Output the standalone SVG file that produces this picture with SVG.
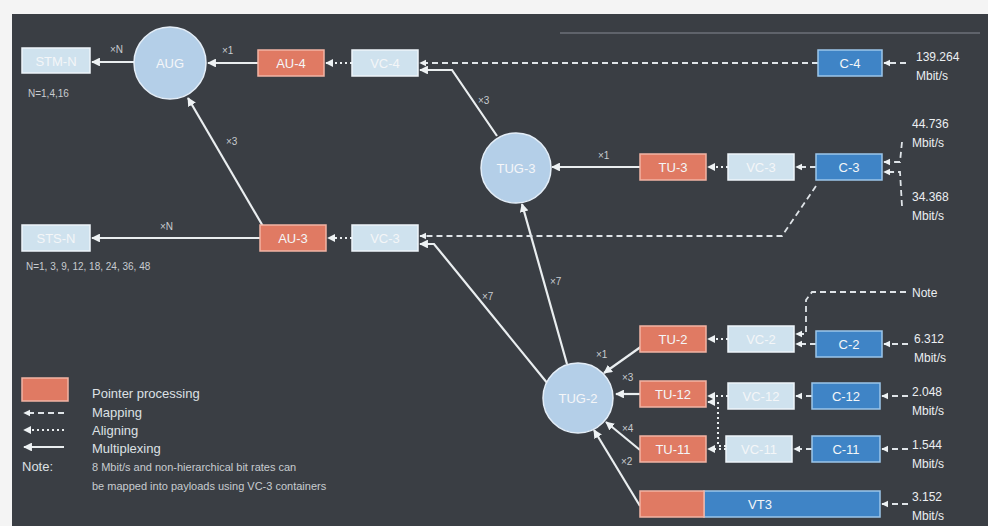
<svg xmlns="http://www.w3.org/2000/svg" width="988" height="526" viewBox="0 0 988 526">
  <defs>
    <marker id="ah" viewBox="0 0 10 10" refX="9" refY="5" markerWidth="4" markerHeight="4" orient="auto-start-reverse">
      <path d="M0,0 L10,5 L0,10 z" fill="#eef2f4"/>
    </marker>
  </defs>
  <style>
    text { font-family: "Liberation Sans", Arial, sans-serif; fill: #e6eaee; }
    .lbl { font-size: 13px; text-anchor: middle; dominant-baseline: central; fill: #f4f6f8; }
    .sm { font-size: 10px; fill: #c8ccd0; }
    .rate { font-size: 12px; fill: #eceff2; }
    .leg { font-size: 13px; fill: #dde1e5; }
    .ptr { fill: #e07a63; stroke: #f2b4a4; stroke-width: 1.5; }
    .vc { fill: #cfe2ee; stroke: #eef5fa; stroke-width: 1.5; }
    .cc { fill: #3f84c6; stroke: #9cc6ea; stroke-width: 1.5; }
    .grp { fill: #b4cfe8; stroke: #e4eef8; stroke-width: 1.5; }
    .mux { stroke: #eaeef0; stroke-width: 2.2; fill: none; }
    .aln { stroke: #eaeef0; stroke-width: 2; fill: none; stroke-dasharray: 2 3; }
    .map { stroke: #dfe4e8; stroke-width: 1.8; fill: none; stroke-dasharray: 6 4; }
  </style>

  <!-- page and dark panel -->
  <rect width="988" height="526" fill="#f4f4f4"/>
  <rect x="12" y="14" width="976" height="512" fill="#3a3e44"/>
  <line x1="560" y1="33" x2="980" y2="33" stroke="#6c7178" stroke-width="1.5"/>

  <!-- connectors -->
  <g id="connectors">
    <!-- multiplexing -->
    <line class="mux" x1="134" y1="62" x2="92" y2="62" marker-end="url(#ah)"/>
    <line class="mux" x1="258" y1="63" x2="208" y2="63" marker-end="url(#ah)"/>
    <line class="mux" x1="264" y1="228" x2="188" y2="98" marker-end="url(#ah)"/>
    <line class="mux" x1="260" y1="238" x2="92" y2="238" marker-end="url(#ah)"/>
    <polyline class="mux" points="497,136 452,70 420,70" marker-end="url(#ah)"/>
    <line class="mux" x1="640" y1="167" x2="552" y2="167" marker-end="url(#ah)"/>
    <line class="mux" x1="567" y1="364" x2="522" y2="204" marker-end="url(#ah)"/>
    <polyline class="mux" points="548,384 434,244 420,244" marker-end="url(#ah)"/>
    <line class="mux" x1="642" y1="346" x2="604" y2="373" marker-end="url(#ah)"/>
    <line class="mux" x1="640" y1="394" x2="616" y2="394" marker-end="url(#ah)"/>
    <line class="mux" x1="640" y1="450" x2="606" y2="422" marker-end="url(#ah)"/>
    <line class="mux" x1="640" y1="506" x2="594" y2="430" marker-end="url(#ah)"/>

    <!-- aligning -->
    <line class="aln" x1="352" y1="63" x2="326" y2="63" marker-end="url(#ah)"/>
    <line class="aln" x1="352" y1="238" x2="328" y2="238" marker-end="url(#ah)"/>
    <line class="aln" x1="728" y1="167" x2="708" y2="167" marker-end="url(#ah)"/>
    <line class="aln" x1="728" y1="339" x2="708" y2="339" marker-end="url(#ah)"/>
    <line class="aln" x1="728" y1="396" x2="708" y2="396" marker-end="url(#ah)"/>
    <line class="aln" x1="726" y1="449" x2="708" y2="449" marker-end="url(#ah)"/>
    <polyline class="aln" points="726,446 718,446 718,402 708,402" marker-end="url(#ah)"/>

    <!-- mapping -->
    <line class="map" x1="818" y1="63" x2="420" y2="63" marker-end="url(#ah)"/>
    <line class="map" x1="816" y1="167" x2="796" y2="167" marker-end="url(#ah)"/>
    <polyline class="map" points="816,186 782,236 420,236" marker-end="url(#ah)"/>
    <line class="map" x1="816" y1="344" x2="796" y2="344" marker-end="url(#ah)"/>
    <polyline class="map" points="906,292 812,292 806,300 806,334 796,334" marker-end="url(#ah)"/>
    <line class="map" x1="812" y1="396" x2="796" y2="396" marker-end="url(#ah)"/>
    <line class="map" x1="812" y1="449" x2="794" y2="449" marker-end="url(#ah)"/>

    <!-- rate inputs -->
    <line class="map" x1="906" y1="63" x2="884" y2="63" marker-end="url(#ah)"/>
    <polyline class="map" points="902,142 900,162 884,162" marker-end="url(#ah)"/>
    <polyline class="map" points="902,206 900,172 884,172" marker-end="url(#ah)"/>
    <line class="map" x1="908" y1="344" x2="884" y2="344" marker-end="url(#ah)"/>
    <line class="map" x1="908" y1="396" x2="882" y2="396" marker-end="url(#ah)"/>
    <line class="map" x1="908" y1="449" x2="882" y2="449" marker-end="url(#ah)"/>
    <line class="map" x1="908" y1="504" x2="882" y2="504" marker-end="url(#ah)"/>

    <!-- multiplexing factors -->
    <text class="sm" x="110" y="53">×N</text>
    <text class="sm" x="222" y="54">×1</text>
    <text class="sm" x="226" y="145">×3</text>
    <text class="sm" x="160" y="230">×N</text>
    <text class="sm" x="478" y="104">×3</text>
    <text class="sm" x="598" y="159">×1</text>
    <text class="sm" x="550" y="285">×7</text>
    <text class="sm" x="482" y="300">×7</text>
    <text class="sm" x="596" y="358">×1</text>
    <text class="sm" x="622" y="381">×3</text>
    <text class="sm" x="622" y="432">×4</text>
    <text class="sm" x="621" y="465">×2</text>
  </g>

  <!-- SDH / SONET line signals -->
  <g id="stm-n">
    <rect class="vc" x="22" y="48" width="68" height="25"/>
    <text class="lbl" x="56" y="61">STM-N</text>
    <text class="sm" x="28" y="97">N=1,4,16</text>
  </g>
  <g id="sts-n">
    <rect class="vc" x="22" y="225" width="68" height="26"/>
    <text class="lbl" x="56" y="238">STS-N</text>
    <text class="sm" x="26" y="270">N=1, 3, 9, 12, 18, 24, 36, 48</text>
  </g>

  <!-- groups -->
  <g id="aug">
    <circle class="grp" cx="170" cy="63" r="36"/>
    <text class="lbl" x="170" y="63">AUG</text>
  </g>
  <g id="tug-3">
    <circle class="grp" cx="516" cy="168" r="35"/>
    <text class="lbl" x="516" y="168">TUG-3</text>
  </g>
  <g id="tug-2">
    <circle class="grp" cx="578" cy="398" r="35"/>
    <text class="lbl" x="578" y="398">TUG-2</text>
  </g>

  <!-- AU-4 branch -->
  <g id="au-4">
    <rect class="ptr" x="258" y="50" width="66" height="26"/>
    <text class="lbl" x="291" y="63">AU-4</text>
  </g>
  <g id="vc-4">
    <rect class="vc" x="352" y="50" width="66" height="26"/>
    <text class="lbl" x="385" y="63">VC-4</text>
  </g>
  <g id="c-4">
    <rect class="cc" x="818" y="50" width="64" height="26"/>
    <text class="lbl" x="850" y="63">C-4</text>
    <text class="rate" x="916" y="61">139.264</text>
    <text class="rate" x="916" y="80">Mbit/s</text>
  </g>

  <!-- AU-3 branch -->
  <g id="au-3">
    <rect class="ptr" x="260" y="225" width="66" height="26"/>
    <text class="lbl" x="293" y="238">AU-3</text>
  </g>
  <g id="vc-3-au">
    <rect class="vc" x="352" y="225" width="66" height="26"/>
    <text class="lbl" x="385" y="238">VC-3</text>
  </g>

  <!-- TU-3 branch -->
  <g id="tu-3">
    <rect class="ptr" x="640" y="154" width="66" height="26"/>
    <text class="lbl" x="673" y="167">TU-3</text>
  </g>
  <g id="vc-3">
    <rect class="vc" x="728" y="154" width="66" height="26"/>
    <text class="lbl" x="761" y="167">VC-3</text>
  </g>
  <g id="c-3">
    <rect class="cc" x="816" y="154" width="66" height="26"/>
    <text class="lbl" x="849" y="167">C-3</text>
    <text class="rate" x="912" y="128">44.736</text>
    <text class="rate" x="912" y="147">Mbit/s</text>
    <text class="rate" x="912" y="201">34.368</text>
    <text class="rate" x="912" y="220">Mbit/s</text>
  </g>

  <!-- TU-2 branch -->
  <g id="tu-2">
    <rect class="ptr" x="640" y="326" width="66" height="26"/>
    <text class="lbl" x="673" y="339">TU-2</text>
  </g>
  <g id="vc-2">
    <rect class="vc" x="728" y="326" width="66" height="26"/>
    <text class="lbl" x="761" y="339">VC-2</text>
  </g>
  <g id="c-2">
    <rect class="cc" x="816" y="331" width="66" height="26"/>
    <text class="lbl" x="849" y="344">C-2</text>
    <text class="rate" x="914" y="343">6.312</text>
    <text class="rate" x="914" y="362">Mbit/s</text>
    <text class="rate" x="912" y="297">Note</text>
  </g>

  <!-- TU-12 branch -->
  <g id="tu-12">
    <rect class="ptr" x="640" y="381" width="66" height="26"/>
    <text class="lbl" x="673" y="394">TU-12</text>
  </g>
  <g id="vc-12">
    <rect class="vc" x="728" y="383" width="66" height="26"/>
    <text class="lbl" x="761" y="396">VC-12</text>
  </g>
  <g id="c-12">
    <rect class="cc" x="812" y="383" width="68" height="26"/>
    <text class="lbl" x="846" y="396">C-12</text>
    <text class="rate" x="912" y="396">2.048</text>
    <text class="rate" x="912" y="415">Mbit/s</text>
  </g>

  <!-- TU-11 branch -->
  <g id="tu-11">
    <rect class="ptr" x="640" y="436" width="66" height="26"/>
    <text class="lbl" x="673" y="449">TU-11</text>
  </g>
  <g id="vc-11">
    <rect class="vc" x="726" y="436" width="66" height="26"/>
    <text class="lbl" x="759" y="449">VC-11</text>
  </g>
  <g id="c-11">
    <rect class="cc" x="812" y="436" width="68" height="26"/>
    <text class="lbl" x="846" y="449">C-11</text>
    <text class="rate" x="912" y="449">1.544</text>
    <text class="rate" x="912" y="468">Mbit/s</text>
  </g>

  <!-- VT3 branch -->
  <g id="vt3">
    <rect class="cc" x="704" y="491" width="176" height="26"/>
    <rect class="ptr" x="640" y="491" width="64" height="26"/>
    <text class="lbl" x="760" y="504">VT3</text>
    <text class="rate" x="912" y="501">3.152</text>
    <text class="rate" x="912" y="520">Mbit/s</text>
  </g>

  <!-- legend -->
  <g id="legend">
    <rect class="ptr" x="22" y="378" width="46" height="23"/>
    <text class="leg" x="92" y="398">Pointer processing</text>
    <line class="map" x1="64" y1="413" x2="24" y2="413" marker-end="url(#ah)"/>
    <text class="leg" x="92" y="417">Mapping</text>
    <line class="aln" x1="64" y1="430" x2="24" y2="430" marker-end="url(#ah)"/>
    <text class="leg" x="92" y="435">Aligning</text>
    <line class="mux" x1="64" y1="447" x2="24" y2="447" marker-end="url(#ah)"/>
    <text class="leg" x="92" y="453">Multiplexing</text>
    <text class="leg" x="22" y="471">Note:</text>
    <text class="sm" x="92" y="471" style="font-size:11px">8 Mbit/s and non-hierarchical bit rates can</text>
    <text class="sm" x="92" y="490" style="font-size:11px">be mapped into payloads using VC-3 containers</text>
  </g>
</svg>
